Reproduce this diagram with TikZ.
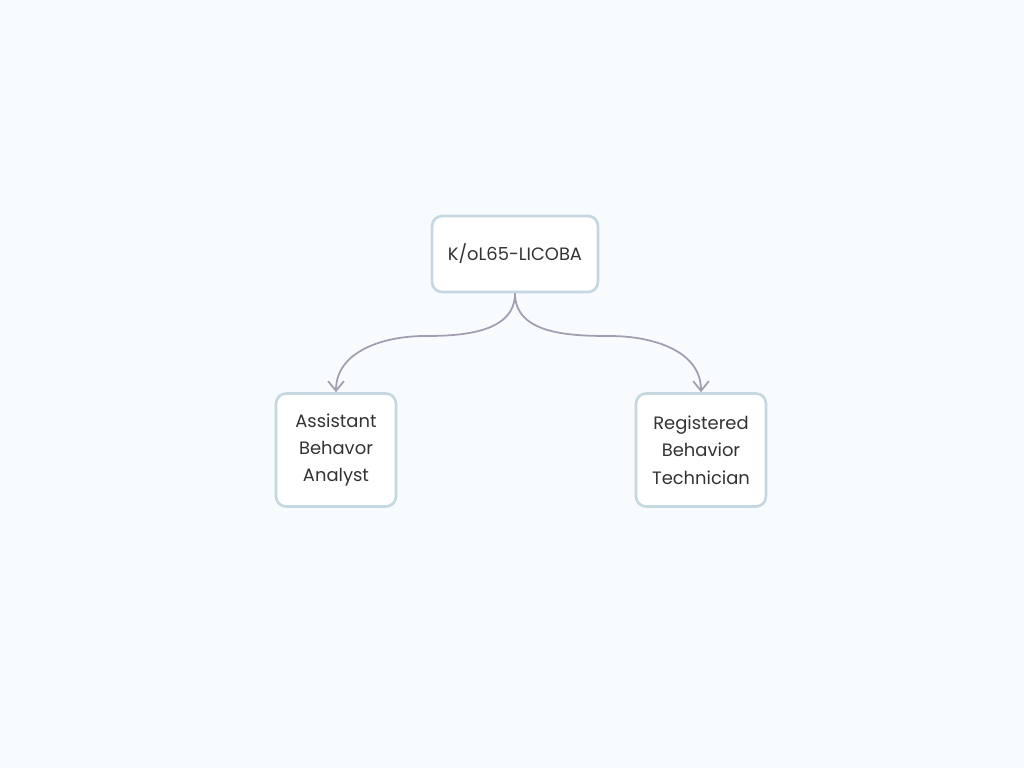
\documentclass[tikz,border=0pt]{standalone}
\usepackage{fontspec}
\setmainfont{Poppins}
\usetikzlibrary{arrows.meta}
\definecolor{bgcol}{HTML}{F8FBFD}
\definecolor{boxline}{HTML}{C5D8E2}
\definecolor{arrcol}{HTML}{A29EB2}
\definecolor{txtcol}{HTML}{333333}

\begin{document}
\begin{tikzpicture}[x=0.02cm,y=-0.02cm]
\tikzstyle{every node}+=[inner sep=0pt]
\tikzstyle{role}=[draw=boxline, line width=1.5pt, fill=white, rounded corners=0.2cm, align=center, text=txtcol, font=\fontsize{10.2}{15.6}\selectfont]
\tikzstyle{link}=[draw=arrcol, line width=1pt, -{Straight Barb[length=5.5pt,width=9pt]}]
\fill [bgcol] (0,0) rectangle (1024,768);
\node [role, minimum width=3.32cm, minimum height=1.52cm] (lic) at (515,254) {K/oL65-LICOBA};
\node [role, minimum width=2.4cm, minimum height=2.26cm] (aba) at (336,450) {Assistant\\Behavor\\Analyst};
\node [role, minimum width=2.6cm, minimum height=2.26cm] (rbt) at (701,450) {Registered\\Behavior\\Technician};
\coordinate (lmid) at (425,336);
\coordinate (rmid) at (610,336);
\draw [link] (lic.south) to[out=-90,in=0] (lmid) to[out=180,in=90] (aba.north);
\draw [link] (lic.south) to[out=-90,in=180] (rmid) to[out=0,in=90] (rbt.north);
\end{tikzpicture}
\end{document}
